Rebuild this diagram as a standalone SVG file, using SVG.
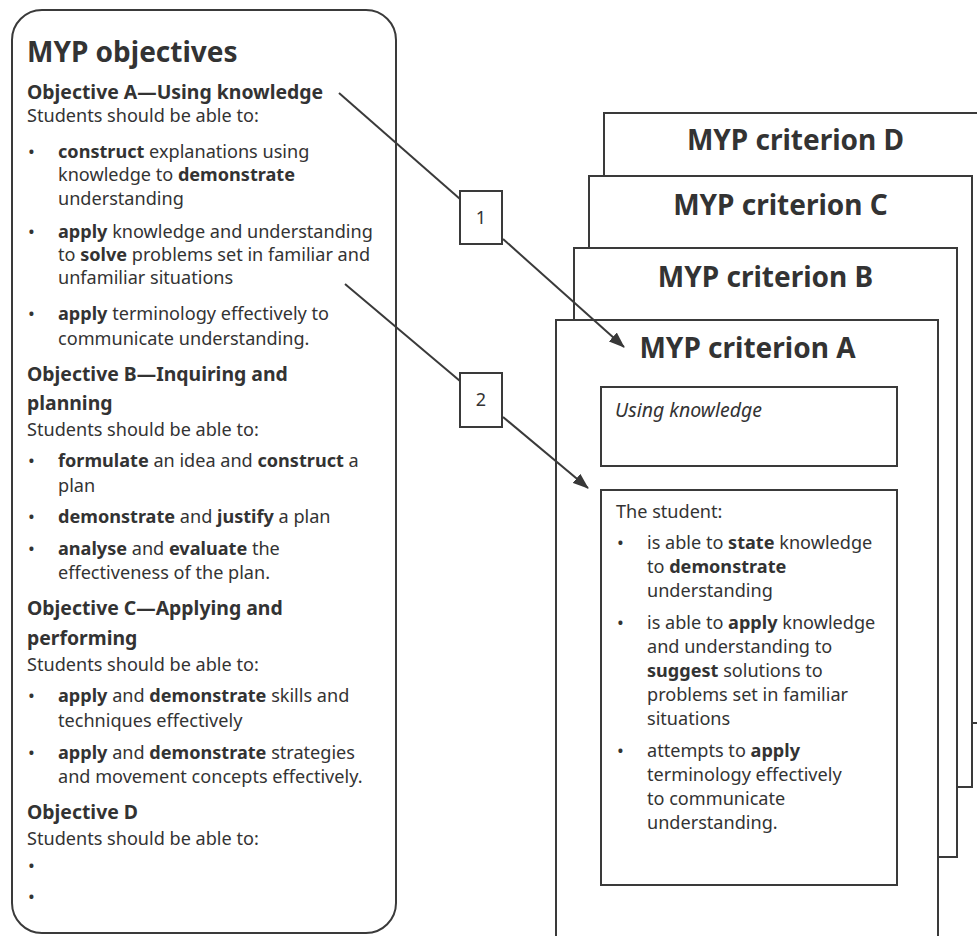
<svg xmlns="http://www.w3.org/2000/svg" width="977" height="936" viewBox="0 0 977 936">
<defs>
<marker id="ah" viewBox="0 0 16 12" refX="15" refY="6" markerWidth="16" markerHeight="12" markerUnits="userSpaceOnUse" orient="auto">
<path d="M0,0 L16,6 L0,12 Z" fill="#383838"/>
</marker>
<style>
text{font-family:"Noto Sans","Open Sans","Liberation Sans",sans-serif;fill:#333;}
.t{font-size:18.1px;}
.h{font-size:19.4px;font-weight:bold;}
.b{font-weight:bold;}
.title{font-size:28px;font-weight:bold;}
.crit{font-size:28px;font-weight:bold;text-anchor:middle;}
.box{fill:#fff;stroke:#3a3a3a;stroke-width:2;}
.ln{fill:none;stroke:#3a3a3a;stroke-width:2;}
.num{font-size:18px;text-anchor:middle;}
</style>
</defs>
<rect width="977" height="936" fill="#fff"/>

<g id="objectives">
<rect class="box" x="12" y="10" width="384" height="923" rx="30"/>
<text class="title" x="27" y="62">MYP objectives</text>
<text class="h" x="27" y="99">Objective A—Using knowledge</text>
<text class="t" x="27" y="122">Students should be able to:</text>
<text class="t" x="28" y="158">•</text>
<text class="t" x="58" y="158"><tspan class="b">construct</tspan> explanations using</text>
<text class="t" x="58" y="181">knowledge to <tspan class="b">demonstrate</tspan></text>
<text class="t" x="58" y="205">understanding</text>
<text class="t" x="28" y="238">•</text>
<text class="t" x="58" y="238"><tspan class="b">apply</tspan> knowledge and understanding</text>
<text class="t" x="58" y="261">to <tspan class="b">solve</tspan> problems set in familiar and</text>
<text class="t" x="58" y="284">unfamiliar situations</text>
<text class="t" x="28" y="320">•</text>
<text class="t" x="58" y="320"><tspan class="b">apply</tspan> terminology effectively to</text>
<text class="t" x="58" y="345">communicate understanding.</text>
<text class="h" x="27" y="381">Objective B—Inquiring and</text>
<text class="h" x="27" y="410">planning</text>
<text class="t" x="27" y="436">Students should be able to:</text>
<text class="t" x="28" y="467">•</text>
<text class="t" x="58" y="467"><tspan class="b">formulate</tspan> an idea and <tspan class="b">construct</tspan> a</text>
<text class="t" x="58" y="492">plan</text>
<text class="t" x="28" y="523">•</text>
<text class="t" x="58" y="523"><tspan class="b">demonstrate</tspan> and <tspan class="b">justify</tspan> a plan</text>
<text class="t" x="28" y="555">•</text>
<text class="t" x="58" y="555"><tspan class="b">analyse</tspan> and <tspan class="b">evaluate</tspan> the</text>
<text class="t" x="58" y="579">effectiveness of the plan.</text>
<text class="h" x="27" y="615">Objective C—Applying and</text>
<text class="h" x="27" y="645">performing</text>
<text class="t" x="27" y="671">Students should be able to:</text>
<text class="t" x="28" y="702">•</text>
<text class="t" x="58" y="702"><tspan class="b">apply</tspan> and <tspan class="b">demonstrate</tspan> skills and</text>
<text class="t" x="58" y="727">techniques effectively</text>
<text class="t" x="28" y="759">•</text>
<text class="t" x="58" y="759"><tspan class="b">apply</tspan> and <tspan class="b">demonstrate</tspan> strategies</text>
<text class="t" x="58" y="783">and movement concepts effectively.</text>
<text class="h" x="27" y="819">Objective D</text>
<text class="t" x="27" y="845">Students should be able to:</text>
<text class="t" x="28" y="872">•</text>
<text class="t" x="28" y="903">•</text>
</g>

<g id="criterion-d">
<rect class="box" x="604" y="113" width="383" height="610"/>
<text class="crit" x="795.5" y="150">MYP criterion D</text>
</g>
<g id="criterion-c">
<rect class="box" x="589" y="176" width="383" height="611"/>
<text class="crit" x="780.5" y="215">MYP criterion C</text>
</g>
<g id="criterion-b">
<rect class="box" x="574" y="248" width="383" height="609"/>
<text class="crit" x="765.5" y="287">MYP criterion B</text>
</g>
<g id="criterion-a">
<rect class="box" x="556" y="320" width="382" height="700"/>
<text class="crit" x="747.5" y="358">MYP criterion A</text>
<g id="using-knowledge">
<rect class="box" x="601" y="387" width="296" height="79"/>
<text x="615" y="417" font-size="19.5px" font-style="italic">Using knowledge</text>
</g>
<g id="student">
<rect class="box" x="601" y="490" width="296" height="395"/>
<text class="t" x="616" y="518">The student:</text>
<text class="t" x="617" y="549">•</text>
<text class="t" x="647" y="549">is able to <tspan class="b">state</tspan> knowledge</text>
<text class="t" x="647" y="573">to <tspan class="b">demonstrate</tspan></text>
<text class="t" x="647" y="597">understanding</text>
<text class="t" x="617" y="629">•</text>
<text class="t" x="647" y="629">is able to <tspan class="b">apply</tspan> knowledge</text>
<text class="t" x="647" y="653">and understanding to</text>
<text class="t" x="647" y="677"><tspan class="b">suggest</tspan> solutions to</text>
<text class="t" x="647" y="701">problems set in familiar</text>
<text class="t" x="647" y="725">situations</text>
<text class="t" x="617" y="757">•</text>
<text class="t" x="647" y="757">attempts to <tspan class="b">apply</tspan></text>
<text class="t" x="647" y="781">terminology effectively</text>
<text class="t" x="647" y="805">to communicate</text>
<text class="t" x="647" y="829">understanding.</text>
</g>
</g>

<g id="label-1">
<rect class="box" x="460" y="191" width="42" height="53"/>
<text class="num" x="481" y="224">1</text>
</g>
<g id="label-2">
<rect class="box" x="460" y="373" width="42" height="54"/>
<text class="num" x="481" y="406">2</text>
</g>

<g id="connectors">
<line class="ln" x1="339" y1="93" x2="460" y2="199"/>
<line class="ln" x1="503" y1="239" x2="624" y2="347" marker-end="url(#ah)"/>
<line class="ln" x1="345" y1="284" x2="460" y2="381"/>
<line class="ln" x1="503" y1="417" x2="588" y2="488" marker-end="url(#ah)"/>
</g>
</svg>
